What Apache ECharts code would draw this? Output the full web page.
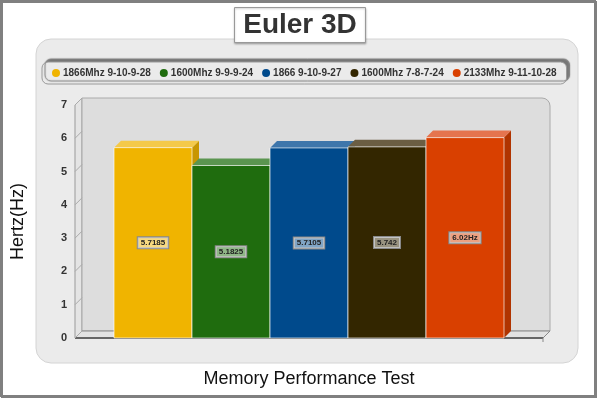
<!DOCTYPE html>
<html>
<head>
<meta charset="utf-8">
<title>Euler 3D</title>
<script src="https://cdn.jsdelivr.net/npm/echarts@6/dist/echarts.min.js"></script>
<style>
  html, body { margin: 0; padding: 0; background: #fff; }
  #chart { width: 600px; height: 400px; }
</style>
</head>
<body>
<div id="chart"></div>
<script>
const seriesNames = ['1866Mhz 9-10-9-28', '1600Mhz 9-9-9-24', '1866 9-10-9-27', '1600Mhz 7-8-7-24', '2133Mhz 9-11-10-28'];
const seriesValues = [5.7185, 5.1825, 5.7105, 5.742, 6.02];
const valueLabels = ['5.7185', '5.1825', '5.7105', '5.742', '6.02Hz'];
const yTicks = [0, 1, 2, 3, 4, 5, 6, 7];

const frontColors = ['#f0b400', '#1f6c0e', '#004a8c', '#332600', '#d94000'];
const topColors = ['#f4c94a', '#5b9550', '#3e76ab', '#6b5e43', '#e5744e'];
const sideColors = ['#c89600', '#17520a', '#003a6e', '#261c00', '#b03400'];

const FONT = 'Liberation Sans';
const DEPTH = 7;

const chart = echarts.init(document.getElementById('chart'));

function renderWall(params, api) {
  const cs = params.coordSys;
  const x0 = cs.x, x1 = cs.x + cs.width;
  const y0 = cs.y, y1 = cs.y + cs.height;
  const d = DEPTH;
  const children = [
    // left side wall
    {
      type: 'polygon',
      shape: { points: [[x0, y0], [x0 + d, y0 - d], [x0 + d, y1 - d], [x0, y1]] },
      style: { fill: '#e4e4e4', stroke: '#999', lineWidth: 1 }
    },
    // back wall
    {
      type: 'rect',
      shape: { x: x0 + d, y: y0 - d, width: cs.width, height: cs.height, r: [0, 8, 0, 0] },
      style: { fill: '#dddddd', stroke: '#aaa', lineWidth: 1 }
    },
    // floor
    {
      type: 'polygon',
      shape: { points: [[x0, y1], [x1, y1], [x1 + d, y1 - d], [x0 + d, y1 - d]] },
      style: { fill: '#e2e2e2', stroke: '#888', lineWidth: 1 }
    },
    {
      type: 'line',
      shape: { x1: x0, y1: y1, x2: x1, y2: y1 },
      style: { stroke: '#666', lineWidth: 2 }
    },
    {
      type: 'line',
      shape: { x1: x1, y1: y1, x2: x1, y2: y1 + 4 },
      style: { stroke: '#888', lineWidth: 1 }
    }
  ];
  yTicks.forEach(function (t) {
    const p = api.coord([-1, t]);
    children.push({
      type: 'line',
      shape: { x1: p[0], y1: p[1], x2: p[0] + d, y2: p[1] - d },
      style: { stroke: '#aaa', lineWidth: 1 }
    });
  });
  return { type: 'group', children: children };
}

function makeRenderBar(i) {
  return function (params, api) {
    const x = api.value(0);
    const v = api.value(1);
    const p0 = api.coord([x - 0.5, 0]);
    const p1 = api.coord([x + 0.5, v]);
    const d = DEPTH;
    const left = p0[0], right = p1[0], top = p1[1], bottom = p0[1];
    return {
      type: 'group',
      children: [
        {
          type: 'polygon',
          shape: { points: [[right, top], [right + d, top - d], [right + d, bottom - d], [right, bottom]] },
          style: { fill: sideColors[i] }
        },
        {
          type: 'polygon',
          shape: { points: [[left, top], [right, top], [right + d, top - d], [left + d, top - d]] },
          style: { fill: topColors[i] }
        },
        {
          type: 'rect',
          shape: { x: left, y: top, width: right - left, height: bottom - top },
          style: { fill: frontColors[i], stroke: 'rgba(255,255,255,0.65)', lineWidth: 1 }
        },
        {
          type: 'text',
          x: (left + right) / 2,
          y: (top + bottom) / 2,
          style: {
            text: valueLabels[i],
            align: 'center',
            verticalAlign: 'middle',
            fontFamily: FONT,
            fontSize: 8,
            fontWeight: 'bold',
            fill: '#222',
            backgroundColor: 'rgba(255,255,255,0.5)',
            borderColor: '#888',
            borderWidth: 1,
            padding: [2, 3, 1, 3]
          }
        }
      ]
    };
  };
}

const series = [{
  type: 'custom',
  name: 'wall',
  silent: true,
  renderItem: renderWall,
  data: [[0, 0]],
  z: 1
}];

seriesNames.forEach(function (name, i) {
  series.push({
    type: 'custom',
    name: name,
    itemStyle: { color: frontColors[i] },
    renderItem: makeRenderBar(i),
    encode: { x: 0, y: 1 },
    data: [[i, seriesValues[i]]],
    z: 2
  });
});

const option = {
  animation: false,
  backgroundColor: '#fff',
  textStyle: { fontFamily: FONT },
  graphic: [
    {
      type: 'rect',
      z: -10,
      shape: { x: 1, y: 1, width: 594, height: 395 },
      style: { fill: '#fff', stroke: '#808080', lineWidth: 2, shadowColor: '#808080', shadowOffsetX: 1, shadowOffsetY: 1 }
    },
    {
      type: 'rect',
      z: -9,
      shape: { x: 36, y: 39, width: 542, height: 324, r: 15 },
      style: { fill: '#ebebeb', stroke: '#d4d4d4', lineWidth: 1 }
    }
  ],
  title: {
    text: 'Euler 3D',
    left: 'center',
    top: 7,
    padding: [4, 9, 4, 9],
    backgroundColor: '#fff',
    borderColor: '#999',
    borderWidth: 1,
    shadowColor: 'rgba(0,0,0,0.25)',
    shadowBlur: 2,
    shadowOffsetY: 1,
    textStyle: { fontFamily: FONT, fontSize: 28, fontWeight: 'bold', color: '#333' },
    z: 10
  },
  legend: {
    data: seriesNames,
    left: 42,
    top: 62,
    icon: 'circle',
    itemWidth: 8,
    itemHeight: 8,
    itemGap: 9,
    padding: [6, 10, 6, 10],
    backgroundColor: '#ebebeb',
    borderColor: '#999',
    borderWidth: 1,
    borderRadius: 6,
    shadowColor: '#777',
    shadowBlur: 1,
    shadowOffsetX: 3,
    shadowOffsetY: -3,
    textStyle: { fontFamily: FONT, fontSize: 10, fontWeight: 'bold', color: '#333', padding: [0, 0, 0, -2] }
  },
  grid: { left: 75, top: 105, right: 57, bottom: 62, outerBoundsMode: 'none', containLabel: false },
  xAxis: {
    type: 'value',
    min: -1,
    max: 5,
    name: 'Memory Performance Test',
    nameLocation: 'middle',
    nameGap: 32,
    nameTextStyle: { fontFamily: FONT, fontSize: 18, color: '#111' },
    axisLine: { show: false },
    axisTick: { show: false },
    axisLabel: { show: false },
    splitLine: { show: false }
  },
  yAxis: {
    type: 'value',
    min: 0,
    max: 7,
    interval: 1,
    name: 'Hertz(Hz)',
    nameLocation: 'middle',
    nameGap: 48,
    nameRotate: 90,
    nameTextStyle: { fontFamily: FONT, fontSize: 18, color: '#111' },
    axisLine: { show: true, lineStyle: { color: '#777', width: 1 } },
    axisTick: { show: true, length: 4, lineStyle: { color: '#777' } },
    axisLabel: { fontFamily: FONT, fontSize: 11, fontWeight: 'bold', color: '#333', margin: 8 },
    splitLine: { show: false }
  },
  series: series
};

chart.setOption(option);
window.addEventListener('resize', function () { chart.resize(); });
</script>
</body>
</html>
